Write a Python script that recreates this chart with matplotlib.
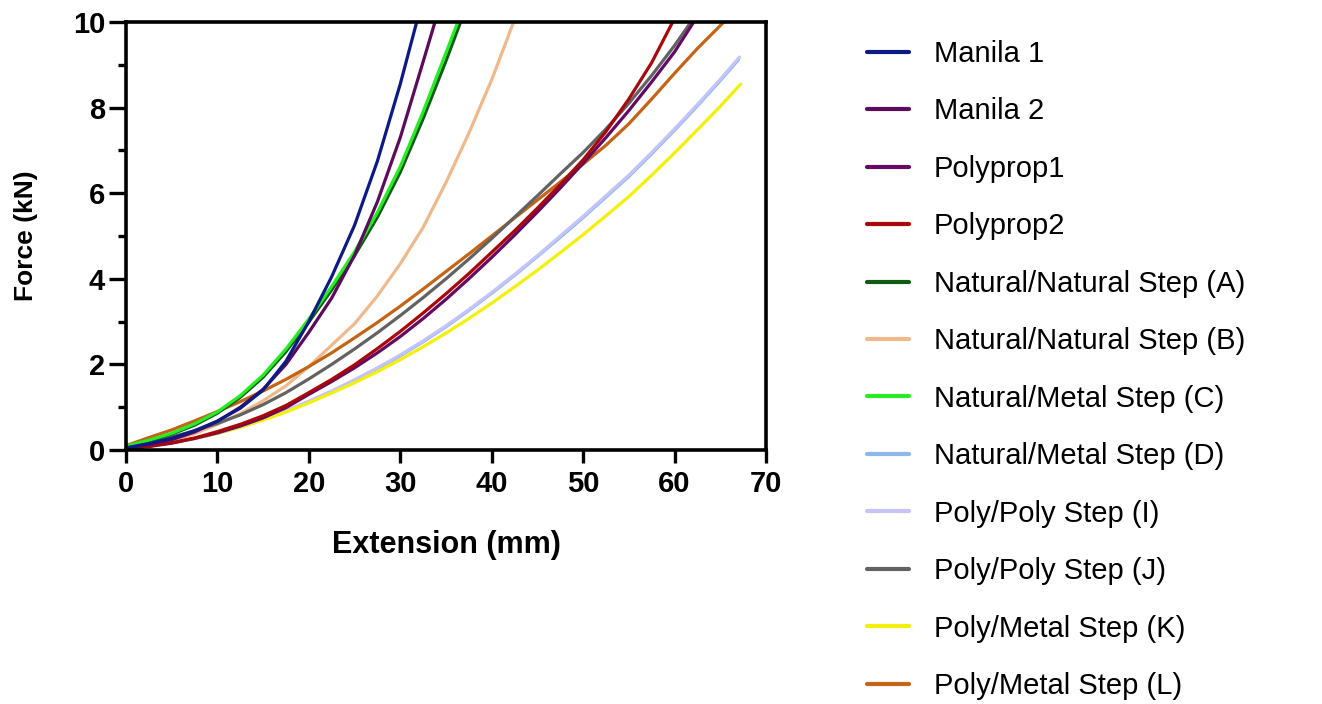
import matplotlib
matplotlib.use("Agg")
import matplotlib.pyplot as plt
from matplotlib.ticker import MultipleLocator

plt.rcParams["font.family"] = ["Liberation Sans", "DejaVu Sans"]

# Extension (mm) / force (kN)
grid = [0, 2.5, 5, 7.5, 10, 12.5, 15, 17.5, 20, 22.5, 25, 27.5, 30, 32.5,
        35, 37.5, 40, 42.5, 45, 47.5, 50, 52.5, 55, 57.5, 60, 62.5, 65]

manila1_x = grid[:13] + [31.8]
manila1_y = [0.05, 0.15, 0.275, 0.45, 0.675, 0.975, 1.40, 2.075, 3.0, 4.05,
             5.25, 6.75, 8.55, 10.0]

manila2_x = grid[:14] + [33.8]
manila2_y = [0.04, 0.13, 0.24, 0.42, 0.67, 1.0, 1.42, 2.0, 2.75, 3.55, 4.55,
             5.8, 7.3, 9.07, 10.0]

polyprop1_x = grid[:25] + [62.1]
polyprop1_y = [0.03, 0.08, 0.16, 0.27, 0.4, 0.56, 0.75, 0.99, 1.3, 1.6, 1.92,
               2.27, 2.65, 3.07, 3.52, 4.0, 4.5, 5.02, 5.56, 6.12, 6.7, 7.3,
               7.93, 8.6, 9.3, 10.0]

polyprop2_x = grid[:24] + [59.8]
polyprop2_y = [0.03, 0.09, 0.17, 0.28, 0.43, 0.6, 0.8, 1.04, 1.34, 1.65, 1.99,
               2.37, 2.77, 3.2, 3.65, 4.12, 4.62, 5.12, 5.65, 6.2, 6.78, 7.44,
               8.2, 9.05, 10.0]

step_a_x = grid[:15] + [36.6]
step_a_y = [0.08, 0.22, 0.37, 0.58, 0.86, 1.23, 1.7, 2.3, 2.99, 3.74, 4.54,
            5.44, 6.49, 7.74, 9.09, 10.0]

step_b_x = grid[:17] + [42.4]
step_b_y = [0.05, 0.12, 0.22, 0.38, 0.6, 0.85, 1.15, 1.5, 1.95, 2.45, 2.95,
            3.6, 4.35, 5.2, 6.25, 7.4, 8.65, 10.0]

step_c_x = grid[:15] + [36.3]
step_c_y = [0.09, 0.23, 0.39, 0.61, 0.89, 1.27, 1.75, 2.36, 3.06, 3.82, 4.63,
            5.55, 6.62, 7.9, 9.28, 10.0]

step_d_x = grid + [67.0]
step_d_y = [0.04, 0.1, 0.17, 0.27, 0.39, 0.54, 0.71, 0.9, 1.12, 1.36, 1.62,
            1.9, 2.2, 2.53, 2.88, 3.26, 3.66, 4.08, 4.52, 4.97, 5.43, 5.91,
            6.39, 6.92, 7.47, 8.04, 8.63, 9.12]

step_i_x = grid + [67.1]
step_i_y = [0.04, 0.1, 0.17, 0.27, 0.4, 0.55, 0.72, 0.92, 1.14, 1.38, 1.64,
            1.92, 2.22, 2.55, 2.9, 3.28, 3.68, 4.1, 4.54, 5.0, 5.46, 5.94,
            6.42, 6.95, 7.5, 8.07, 8.66, 9.18]

step_j_x = grid[:25] + [61.8]
step_j_y = [0.06, 0.17, 0.3, 0.45, 0.62, 0.82, 1.06, 1.34, 1.66, 2.0, 2.36,
            2.74, 3.14, 3.56, 4.0, 4.46, 4.94, 5.44, 5.94, 6.45, 6.95, 7.5,
            8.1, 8.75, 9.45, 10.0]

step_k_x = grid + [67.25]
step_k_y = [0.04, 0.1, 0.17, 0.27, 0.39, 0.53, 0.7, 0.89, 1.1, 1.33, 1.57,
            1.83, 2.11, 2.41, 2.73, 3.07, 3.43, 3.81, 4.2, 4.61, 5.03, 5.47,
            5.92, 6.42, 6.94, 7.48, 8.03, 8.55]

step_l_x = grid[:26] + [65.4]
step_l_y = [0.1, 0.29, 0.47, 0.68, 0.9, 1.13, 1.38, 1.65, 1.95, 2.27, 2.62,
            2.98, 3.36, 3.76, 4.17, 4.58, 5.0, 5.42, 5.84, 6.26, 6.68, 7.12,
            7.62, 8.2, 8.8, 9.38, 10.0]

labels = ["Manila 1", "Manila 2", "Polyprop1", "Polyprop2",
          "Natural/Natural Step (A)", "Natural/Natural Step (B)",
          "Natural/Metal Step (C)", "Natural/Metal Step (D)",
          "Poly/Poly Step (I)", "Poly/Poly Step (J)",
          "Poly/Metal Step (K)", "Poly/Metal Step (L)"]
xs = [manila1_x, manila2_x, polyprop1_x, polyprop2_x, step_a_x, step_b_x,
      step_c_x, step_d_x, step_i_x, step_j_x, step_k_x, step_l_x]
ys = [manila1_y, manila2_y, polyprop1_y, polyprop2_y, step_a_y, step_b_y,
      step_c_y, step_d_y, step_i_y, step_j_y, step_k_y, step_l_y]
colors = ["#0c1a85", "#5c0a5c", "#640a64", "#a80808", "#0e5c12", "#efb98c",
          "#26ec26", "#8cb8ec", "#c4c4fa", "#626262", "#f4f00a", "#c46414"]

# draw order: pale curves first, dark ones on top
order = [7, 8, 10, 5, 11, 9, 2, 3, 4, 6, 1, 0]

fig = plt.figure(figsize=(13.22, 7.04), dpi=100)
ax = fig.add_axes([0.0953, 0.3608, 0.4841, 0.6080])

handles = [None] * len(labels)
for i in order:
    ln, = ax.plot(xs[i], ys[i], color=colors[i], lw=2.3, label=labels[i],
                  solid_capstyle="round", solid_joinstyle="round")
    handles[i] = ln

ax.set_xlim(0, 70)
ax.set_ylim(0, 10)
ax.xaxis.set_major_locator(MultipleLocator(10))
ax.yaxis.set_major_locator(MultipleLocator(2))
ax.yaxis.set_minor_locator(MultipleLocator(1))

for sp in ax.spines.values():
    sp.set_linewidth(2.6)
ax.tick_params(axis="both", which="major", direction="out", width=2.4, labelsize=21)
ax.tick_params(axis="y", which="major", length=12, pad=3)
ax.tick_params(axis="x", which="major", length=9.5, pad=5)
ax.tick_params(axis="y", which="minor", direction="out", length=6, width=2.4)
for lab in ax.get_xticklabels() + ax.get_yticklabels():
    lab.set_fontweight("bold")

ax.set_xlabel("Extension (mm)", fontsize=22, fontweight="bold")
ax.set_ylabel("Force (kN)", fontsize=19, fontweight="bold")
ax.xaxis.set_label_coords(0.5, -0.188)
ax.yaxis.set_label_coords(-0.138, 0.5)

leg = fig.legend(handles, labels, loc="upper left", bbox_to_anchor=(0.6445, 0.964),
                 frameon=False, fontsize=21, handlelength=1.45, handletextpad=0.85,
                 labelspacing=1.01, borderpad=0)
for h in leg.get_lines():
    h.set_linewidth(3)

fig.savefig("out.png", dpi=100)
